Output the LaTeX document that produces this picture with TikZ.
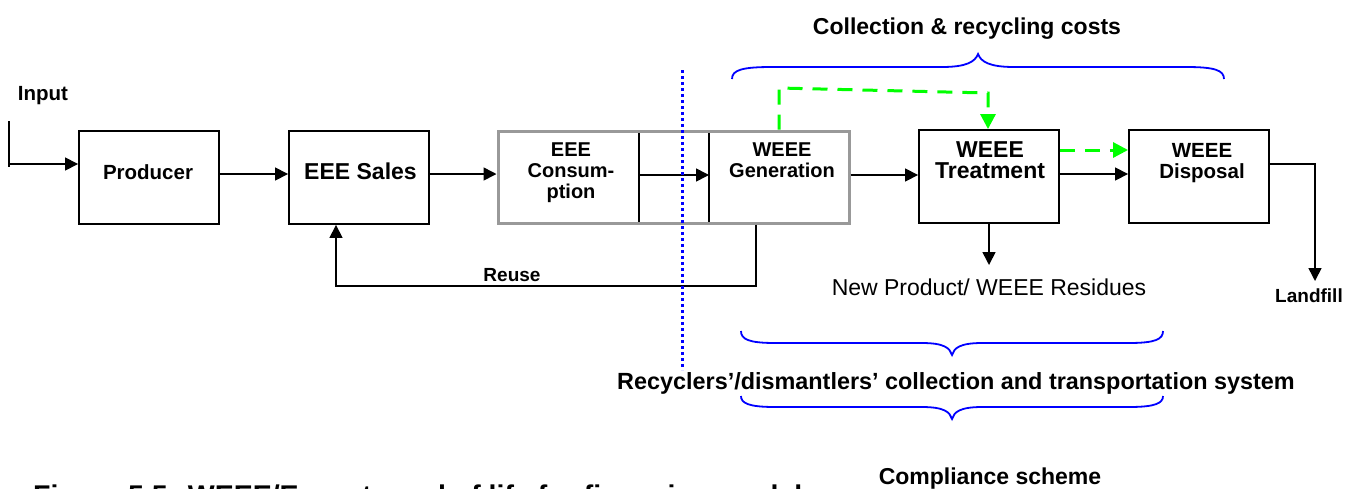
\documentclass[tikz,border=0pt]{standalone}
\usepackage{fontspec}
\setmainfont{Liberation Sans}
\usetikzlibrary{arrows.meta}
\definecolor{bgreen}{HTML}{00FF00}
\definecolor{bblue}{HTML}{0000FF}
\definecolor{ggrey}{HTML}{999999}
\begin{document}
\begin{tikzpicture}[x=1pt,y=-1pt,
  box/.style={draw=black,line width=1.9pt,minimum width=140pt,minimum height=93pt,inner sep=0pt},
  grp/.style={draw=ggrey,line width=3pt,minimum width=351pt,minimum height=92pt,inner sep=0pt},
  arr/.style={draw=black,line width=1.6pt,-{Triangle[length=13pt,width=13pt]}},
  plain/.style={draw=black,line width=1.6pt},
  garr/.style={draw=bgreen,line width=3pt,dash pattern=on 15pt off 10pt,-{Triangle[length=15pt,width=15pt]}},
  brace/.style={draw=bblue,line width=1.8pt},
  dotline/.style={draw=bblue,line width=3pt,dash pattern=on 3pt off 3pt},
  lbl/.style={font=\bfseries\fontsize{20.5}{21}\selectfont,align=center,inner sep=0pt},
  lblbig/.style={font=\bfseries\fontsize{23}{21}\selectfont,align=center,inner sep=0pt},
  lblsmall/.style={font=\bfseries\fontsize{19}{21}\selectfont,inner sep=0pt},
  reg/.style={font=\fontsize{23}{25}\selectfont,inner sep=0pt}
]
\useasboundingbox (0,0) rectangle (1362,488);
\clip (0,0) rectangle (1362,488);

% boxes
\node[box] (prod) at (149,177.5) {};
\node[box] (sales) at (359,177.5) {};
\node[box] (treat) at (989,176.5) {};
\node[box] (disp) at (1199,176.5) {};
\coordinate (div1) at (639,131);
\coordinate (div2) at (709,131);
\coordinate (div1b) at (639,223);
\coordinate (div2b) at (709,223);
\draw[plain] (div1) -- (div1b);
\draw[plain] (div2) -- (div2b);
\node[grp] (grp) at (673.5,177) {};

% helper coordinates
\coordinate (yIn) at (0,164);
\coordinate (y174) at (0,174);
\coordinate (y175) at (0,175);
\coordinate (y150) at (0,150);
\coordinate (inA) at (9,121);
\coordinate (inB) at (9,167);
\coordinate (inC) at (9,164);
\coordinate (lf) at (1315,281);
\coordinate (np) at (989,265);
\coordinate (ru) at (756,286);
\coordinate (rx) at (336,0);
\coordinate (g1) at (779,88);
\coordinate (g2) at (988,93);
\coordinate (d1) at (682,70);
\coordinate (d2) at (682,370);

% connectors
\draw[plain] (inA) -- (inB);
\draw[arr] (inC) -- (prod.west |- yIn);
\draw[arr] (prod.east |- y174) -- (sales.west |- y174);
\draw[arr] (sales.east |- y174) -- (grp.west |- y174);
\draw[arr] (div1 |- y175) -- (div2 |- y175);
\draw[arr] (grp.east |- y175) -- (treat.west |- y175);
\draw[arr] (treat.east |- y174) -- (disp.west |- y174);
\draw[arr] (disp.east |- yIn) -| (lf);
\draw[arr] (treat.south) -- (np);
\draw[arr] (grp.south -| ru) -- (ru) -| (sales.south -| rx);

% green dashed
\draw[garr] (grp.north -| g1) -- (g1) -- (g2) -- (treat.north -| g2);
\draw[garr] (treat.east |- y150) -- (disp.west |- y150);

% blue dotted divider
\draw[dotline] (d1) -- (d2);

% braces
\draw[brace] (732,79) .. controls (732,70) and (742,67) .. (772,67) -- (942,67)
  .. controls (966,67) and (975,62) .. (978,54)
  .. controls (981,62) and (990,67) .. (1014,67) -- (1186,67)
  .. controls (1214,67) and (1224,70) .. (1224,79);
\draw[brace] (741,331) .. controls (741,339) and (748,343) .. (775,343) -- (922,343)
  .. controls (944,343) and (950,348) .. (952,355)
  .. controls (954,348) and (960,343) .. (982,343) -- (1129,343)
  .. controls (1156,343) and (1163,339) .. (1163,331);
\draw[brace] (741,396) .. controls (741,403) and (748,407) .. (775,407) -- (922,407)
  .. controls (944,407) and (950,412) .. (952,419)
  .. controls (954,412) and (960,407) .. (982,407) -- (1129,407)
  .. controls (1156,407) and (1163,403) .. (1163,396);

% labels
\node[lbl,anchor=base] (inputT) at (43,100.7) {Input};
\node[lbl,anchor=base] (prodT) at (148,179.3) {Producer};
\node[lblbig,anchor=base] (salesT) at (360.5,179.3) {EEE Sales};
\node[lbl,font=\bfseries\fontsize{20}{21}\selectfont] (consT) at (571,172.6) {EEE\\Consum-\\ption};
\node[lbl,font=\bfseries\fontsize{20}{21}\selectfont] (genT) at (782,160) {WEEE\\Generation};
\node[lblbig] (treatT) at (990,160.3) {WEEE\\Treatment};
\node[lbl] (dispT) at (1202,162.6) {WEEE\\Disposal};
\node[lblsmall,anchor=base] (reuseT) at (512,281.7) {Reuse};
\node[lblsmall,anchor=base] (lfT) at (1309,302.7) {Landfill};
\node[reg,anchor=base] (npT) at (989,295) {New Product/ WEEE Residues};
\node[lblbig,anchor=base] (collT) at (967,34.3) {Collection \& recycling costs};
\node[lblbig,font=\bfseries\fontsize{23.4}{25}\selectfont,anchor=base] (recT) at (956,389.3) {Recyclers’/dismantlers’ collection and transportation system};
\node[lblbig,anchor=base] (compT) at (990,484) {Compliance scheme};
\node[font=\bfseries\fontsize{28.5}{30}\selectfont,anchor=base west,inner sep=0pt] (capT) at (33,505.5) {Figure 5.5: WEEE/E-waste end of life for financing model};
\end{tikzpicture}
\end{document}
